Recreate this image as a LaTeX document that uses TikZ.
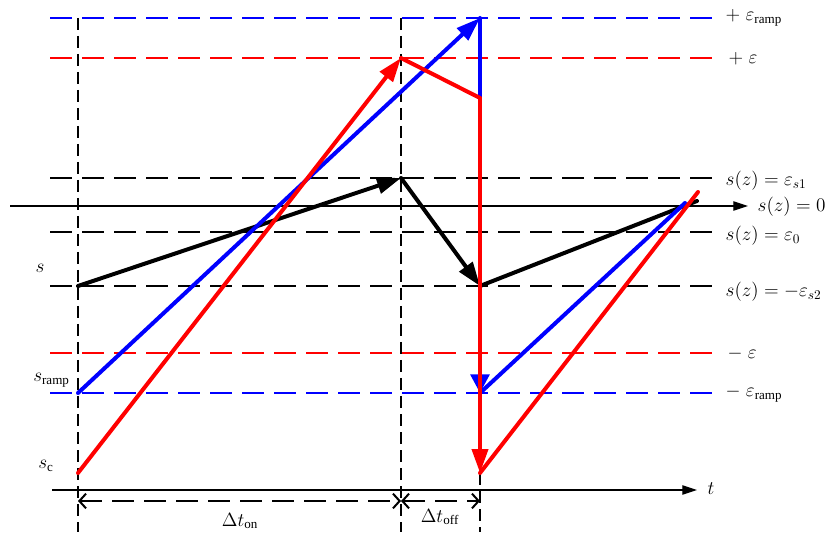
\documentclass[tikz,border=0pt]{standalone}
\usepackage{fontspec}
\setmainfont{Liberation Serif}
\usetikzlibrary{arrows.meta}
\begin{document}
\begin{tikzpicture}[x=0.75pt,y=-0.75pt,font=\fontsize{14}{16}\selectfont]
    \tikzstyle{level} = [line width=1.5pt, dash pattern=on 16.5pt off 7.5pt]
    \tikzstyle{guide} = [line width=1.6pt, dash pattern=on 9pt off 4.5pt]
    \tikzstyle{traj} = [line width=3pt, line cap=round, line join=round]
    \tikzstyle{head} = [-{Triangle[length=18pt,width=12pt]}]
    \tikzstyle{axis} = [line width=0.9pt, -{Triangle[length=11pt,width=7pt]}]
    \tikzstyle{span} = [line width=1.5pt, dash pattern=on 16.5pt off 7.5pt, {Straight Barb[length=5pt,width=11pt]}-{Straight Barb[length=5pt,width=11pt]}]

    \useasboundingbox (0,0) rectangle (828,534);

    % levels
    \draw [level, blue] (50,18) -- (722,18);
    \draw [level, red] (50,58) -- (722,58);
    \draw [level] (50,178) -- (722,178);
    \draw [level] (50,232) -- (722,232);
    \draw [level] (50,286) -- (722,286);
    \draw [level, red] (50,353) -- (722,353);
    \draw [level, blue] (50,393) -- (722,393);

    \draw [guide] (78,18) -- (78,532);
    \draw [guide] (401,18) -- (401,532);
    \draw [guide] (480,473) -- (480,532);

    \draw [axis] (10,206) -- (748,206);
    \draw [axis] (52,490) -- (697,490);

    \coordinate (s0) at (78,286);
    \coordinate (s1) at (401,178);
    \coordinate (s2) at (480,286);
    \coordinate (s3) at (697,201);
    \coordinate (r0) at (78,393);
    \coordinate (r1) at (480,18);
    \coordinate (r2) at (480,393);
    \coordinate (r3) at (685,203);
    \coordinate (c0) at (78,473);
    \coordinate (c1) at (401,58);
    \coordinate (c2) at (480,98);
    \coordinate (c3) at (480,473);
    \coordinate (c4) at (698,192);

    \draw [traj, head] (s0) -- (s1);
    \draw [traj, head] (s1) -- (s2);
    \draw [traj] (s2) -- (s3);

    \draw [traj, head, blue] (r0) -- (r1);
    \draw [traj, blue, -{Triangle[length=14pt,width=14pt]}] (r1) -- (r2);
    \draw [traj, blue] (r2) -- (r3);

    \draw [traj, head, red] (c0) -- (c1);
    \draw [traj, red] (c1) -- (c2);
    \draw [traj, head, red] (c2) -- (c3);
    \draw [traj, red] (c3) -- (c4);

    \coordinate (d0) at (78,501);
    \coordinate (d1) at (401,501);
    \coordinate (d2) at (480,501);
    \draw [span] (d0) -- (d1);
    \draw [span] (d1) -- (d2);

    \node (ton) at (240,521) {$\Delta t_{\mathrm{on}}$};
    \node (toff) at (440,517) {$\Delta t_{\mathrm{off}}$};
    \node (t) at (711,489) {$t$};

    \node (s) at (40,268) {$s$};
    \node [anchor=west, inner sep=0pt] (sramp) at (33,380) {$s_{\mathrm{ramp}}$};
    \node [anchor=west, inner sep=0pt] (sc) at (38,466) {$s_{\mathrm{c}}$};

    \node [anchor=west] (epsr) at (721,18) {$+\;\varepsilon_{\mathrm{ramp}}$};
    \node [anchor=west] (eps) at (724,59) {$+\;\varepsilon$};
    \node [anchor=west] (es1) at (721,181) {$s(z)=\varepsilon_{s1}$};
    \node [anchor=west] (zero) at (753,207) {$s(z)=0$};
    \node [anchor=west] (e0) at (721,236) {$s(z)=\varepsilon_{0}$};
    \node [anchor=west] (es2) at (721,292) {$s(z)=-\varepsilon_{s2}$};
    \node [anchor=west] (neps) at (723,354) {$-\;\varepsilon$};
    \node [anchor=west] (nepsr) at (721,394) {$-\;\varepsilon_{\mathrm{ramp}}$};
\end{tikzpicture}
\end{document}
